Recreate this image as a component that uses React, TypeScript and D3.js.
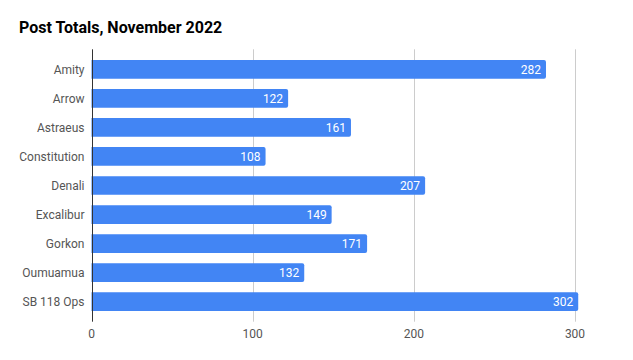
import { useRef, useEffect } from 'react';
import { select, scaleBand, scaleLinear } from 'd3';

const ships = ['Amity', 'Arrow', 'Astraeus', 'Constitution', 'Denali', 'Excalibur', 'Gorkon', 'Oumuamua', 'SB 118 Ops'];
const posts = [282, 122, 161, 108, 207, 149, 171, 132, 302];
const xTicks = [0, 100, 200, 300];

const width = 633;
const height = 360;

export default function App() {
  const ref = useRef<SVGSVGElement>(null);

  useEffect(() => {
    if (!ref.current) return;
    const svg = select(ref.current);
    svg.selectAll('*').remove();

    const margin = { top: 49.3, right: 58, bottom: 38.3, left: 91.5 };
    const x = scaleLinear().domain([0, 300]).range([margin.left, width - margin.right]);
    const y = scaleBand()
      .domain(ships)
      .range([margin.top, height - margin.bottom])
      .paddingInner(0.355)
      .paddingOuter(0.367);

    const font = 'Roboto, sans-serif';

    svg.append('text')
      .attr('x', 19).attr('y', 33)
      .attr('font-family', font).attr('font-size', 16).attr('font-weight', 'bold')
      .attr('fill', '#000')
      .text('Post Totals, November 2022');

    // gridlines
    svg.append('g')
      .selectAll('line')
      .data(xTicks.slice(1))
      .join('line')
      .attr('x1', d => Math.round(x(d)) + 0.5).attr('x2', d => Math.round(x(d)) + 0.5)
      .attr('y1', margin.top).attr('y2', height - margin.bottom)
      .attr('stroke', '#ccc');

    const data = ships.map((s, i) => ({ s, v: posts[i] }));

    svg.append('g')
      .selectAll('path')
      .data(data)
      .join('path')
      .attr('d', d => {
        const x0 = x(0), x1 = x(d.v), y0 = y(d.s)!, h = y.bandwidth(), r = 2;
        return `M${x0},${y0}H${x1 - r}Q${x1},${y0} ${x1},${y0 + r}V${y0 + h - r}Q${x1},${y0 + h} ${x1 - r},${y0 + h}H${x0}Z`;
      })
      .attr('fill', '#4285f4');

    svg.append('g')
      .selectAll('text')
      .data(data)
      .join('text')
      .attr('x', d => x(d.v) - 5)
      .attr('y', d => y(d.s)! + y.bandwidth() / 2)
      .attr('dy', '0.35em')
      .attr('text-anchor', 'end')
      .attr('font-family', font).attr('font-size', 12)
      .attr('fill', '#fff')
      .text(d => d.v);

    // zero axis line
    svg.append('line')
      .attr('x1', Math.round(x(0)) + 0.5).attr('x2', Math.round(x(0)) + 0.5)
      .attr('y1', margin.top).attr('y2', height - margin.bottom)
      .attr('stroke', '#333');

    svg.append('g')
      .selectAll('text')
      .data(ships)
      .join('text')
      .attr('x', margin.left - 7)
      .attr('y', d => y(d)! + y.bandwidth() / 2)
      .attr('dy', '0.35em')
      .attr('text-anchor', 'end')
      .attr('font-family', font).attr('font-size', 12)
      .attr('fill', '#555')
      .text(d => d);

    svg.append('g')
      .selectAll('text')
      .data(xTicks)
      .join('text')
      .attr('x', d => x(d))
      .attr('y', height - margin.bottom + 16)
      .attr('text-anchor', 'middle')
      .attr('font-family', font).attr('font-size', 12)
      .attr('fill', '#555')
      .text(d => d);
  }, []);

  return (
    <svg
      ref={ref}
      width={width}
      height={height}
      style={{ position: 'absolute', left: 0, top: 0, background: '#fff' }}
    />
  );
}
